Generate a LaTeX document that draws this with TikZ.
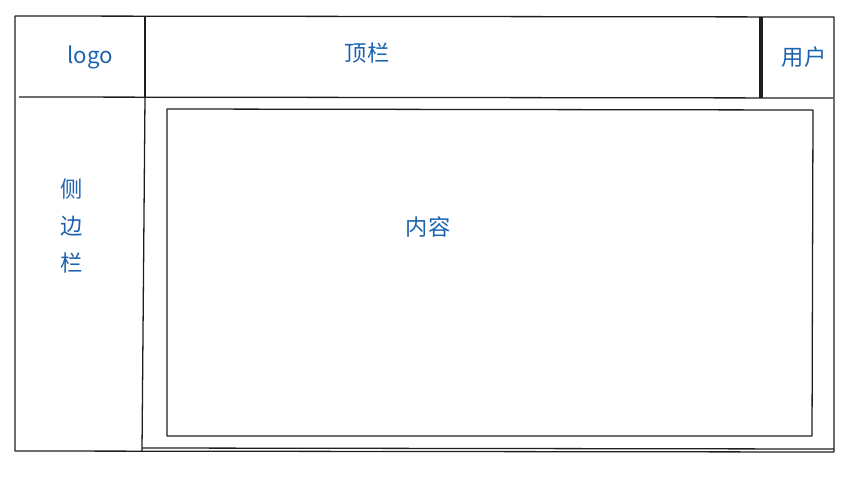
\documentclass[tikz,border=0pt]{standalone}
\usepackage{fontspec}
\newfontfamily\cjk{Noto Sans CJK SC}
\definecolor{inkblue}{HTML}{1C62AE}
\definecolor{pen}{HTML}{1E1E1E}
\begin{document}
\begin{tikzpicture}[x=0.03cm, y=-0.03cm,
    pen/.style = {draw=pen, line width=1.1pt, line join=round},
    label/.style = {text=inkblue, font=\cjk\fontsize{19}{22}\selectfont, inner sep=0pt}]

    \useasboundingbox (0, 0) rectangle (853, 476);

    % Outer frame
    \draw[pen] (15, 16) -- (834, 17) -- (834, 452) -- (15, 451) -- cycle;

    % Header
    \draw[pen] (19, 97) -- (833, 98);
    \draw[pen] (145, 16) -- (145, 97);
    \draw[pen] (760, 17) -- (760, 98);
    \draw[pen] (762, 17) -- (762, 98);

    % Sidebar wall
    \draw[pen] (145, 97) -- (142, 451);
    \draw[pen] (142, 448) -- (834, 449);

    % Content box
    \draw[pen] (167, 109) -- (813, 110) -- (812, 436) -- (167, 436) -- cycle;

    % Labels
    \node[label] (logo) at (90, 57) {logo};
    \node[label] (topbar) at (367, 53) {顶栏};
    \node[label] (user) at (804, 57) {用户};
    \node[label] (side1) at (72, 189) {侧};
    \node[label] (side2) at (72, 226) {边};
    \node[label] (side3) at (72, 263) {栏};
    \node[label] (content) at (428, 227) {内容};

\end{tikzpicture}
\end{document}
